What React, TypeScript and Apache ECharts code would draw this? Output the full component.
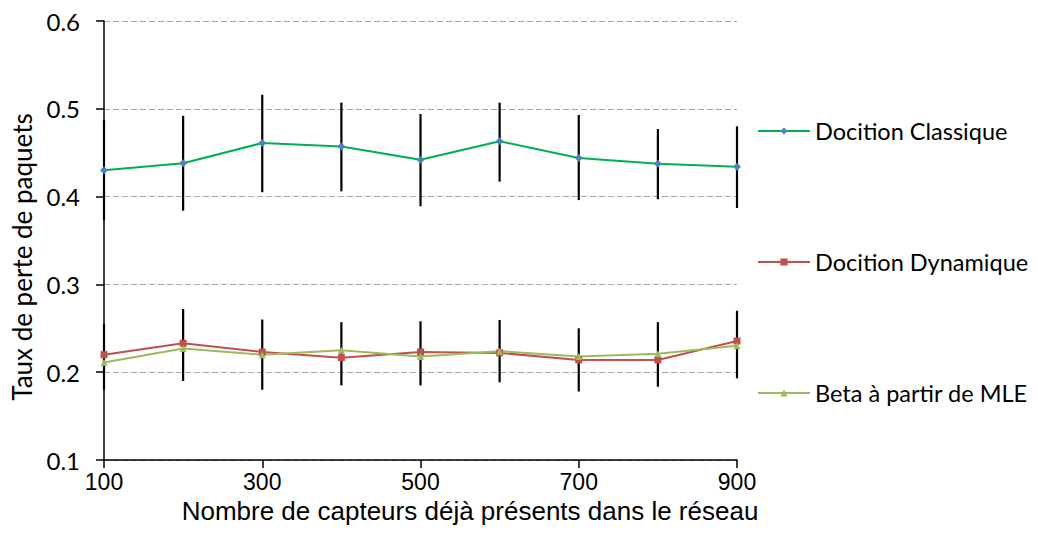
import React, { useEffect, useRef } from "react";
import * as echarts from "echarts";

const categories = ["100", "200", "300", "400", "500", "600", "700", "800", "900"];
const classique = [0.430, 0.438, 0.461, 0.457, 0.442, 0.463, 0.444, 0.4375, 0.434];
const classiqueLow = [0.373, 0.384, 0.405, 0.406, 0.389, 0.417, 0.396, 0.397, 0.387];
const classiqueHigh = [0.487, 0.492, 0.516, 0.507, 0.494, 0.507, 0.493, 0.477, 0.480];
const dynamique = [0.220, 0.233, 0.223, 0.2165, 0.223, 0.222, 0.214, 0.214, 0.2355];
const beta = [0.211, 0.227, 0.220, 0.225, 0.218, 0.224, 0.218, 0.221, 0.230];
const lowerLow = [0.180, 0.190, 0.180, 0.185, 0.185, 0.1885, 0.178, 0.1835, 0.193];
const lowerHigh = [0.255, 0.272, 0.260, 0.257, 0.258, 0.2595, 0.250, 0.257, 0.270];

const yTitle = "Taux de perte de paquets";
const xTitle = "Nombre de capteurs déjà présents dans le réseau";
const names = ["Docition Classique", "Docition Dynamique", "Beta à partir de MLE"];

export default function App() {
  const ref = useRef<HTMLDivElement>(null);
  useEffect(() => {
    document.body.style.margin = "0";
    if (!ref.current) return;
    const chart = echarts.init(ref.current, null, { renderer: "svg" });
    const errData = (lo: number[], hi: number[]) => lo.map((l, i) => [i, l, hi[i]]);
    const renderErr = (params: any, api: any) => {
      const p1 = api.coord([api.value(0), api.value(1)]);
      const p2 = api.coord([api.value(0), api.value(2)]);
      return {
        type: "line",
        shape: { x1: p1[0], y1: p1[1], x2: p2[0], y2: p2[1] },
        style: { stroke: "#000", lineWidth: 2.2 },
      };
    };
    chart.setOption({
      animation: false,
      backgroundColor: "#fff",
      grid: { left: 104, top: 21, width: 633, height: 439, containLabel: false },
      xAxis: {
        type: "category",
        data: categories,
        boundaryGap: false,
        axisLine: { lineStyle: { color: "#000", width: 1.5 } },
        axisTick: { show: true, interval: 1, length: 8, inside: false, lineStyle: { color: "#000", width: 1.5 } },
        axisLabel: { interval: 1, margin: 10, color: "#000", fontSize: 23, fontFamily: "Liberation Sans" },
        splitLine: { show: false },
      },
      yAxis: {
        type: "value",
        min: 0.1,
        max: 0.6,
        interval: 0.1,
        axisLine: { show: true, lineStyle: { color: "#000", width: 1.5 } },
        axisTick: { show: true, length: 8, lineStyle: { color: "#000", width: 1.5 } },
        axisLabel: {
          margin: 24,
          color: "#000",
          fontSize: 24,
          fontFamily: "Lato",
          formatter: (v: number) => v.toFixed(1),
        },
        splitLine: { show: true, lineStyle: { color: "#A6A6A6", type: [6, 3], width: 1.2 } },
      },
      legend: {
        data: names,
        orient: "vertical",
        left: 757,
        top: 116,
        padding: 0,
        itemWidth: 52,
        itemHeight: 9,
        itemGap: 101,
        textStyle: { color: "#000", fontSize: 23.5, fontFamily: "Lato", lineHeight: 30 },
      },
      graphic: [
        {
          type: "text",
          x: 470,
          y: 511,
          style: { text: xTitle, fontSize: 26, fontFamily: "Liberation Sans", fill: "#000", align: "center", verticalAlign: "middle" },
        },
        {
          type: "text",
          x: 22,
          y: 257,
          rotation: Math.PI / 2,
          style: { text: yTitle, fontSize: 26, fontFamily: "Lato", fill: "#000", align: "center", verticalAlign: "middle" },
        },
      ],
      series: [
        {
          type: "custom",
          renderItem: renderErr,
          data: errData(classiqueLow, classiqueHigh),
          encode: { x: 0, y: [1, 2] },
          z: 2,
          silent: true,
        },
        {
          type: "custom",
          renderItem: renderErr,
          data: errData(lowerLow, lowerHigh),
          encode: { x: 0, y: [1, 2] },
          z: 2,
          silent: true,
        },
        {
          name: names[0],
          type: "line",
          data: classique,
          symbol: "diamond",
          symbolSize: 8,
          lineStyle: { color: "#00B050", width: 2 },
          itemStyle: { color: "#4F81BD" },
          z: 3,
        },
        {
          name: names[1],
          type: "line",
          data: dynamique,
          symbol: "rect",
          symbolSize: 7,
          lineStyle: { color: "#C0504D", width: 2 },
          itemStyle: { color: "#C0504D" },
          z: 3,
        },
        {
          name: names[2],
          type: "line",
          data: beta,
          symbol: "triangle",
          symbolSize: 7,
          lineStyle: { color: "#9BBB59", width: 2 },
          itemStyle: { color: "#9BBB59" },
          z: 3,
        },
      ],
    });
    return () => chart.dispose();
  }, []);
  return <div ref={ref} style={{ width: 1038, height: 558 }} />;
}
